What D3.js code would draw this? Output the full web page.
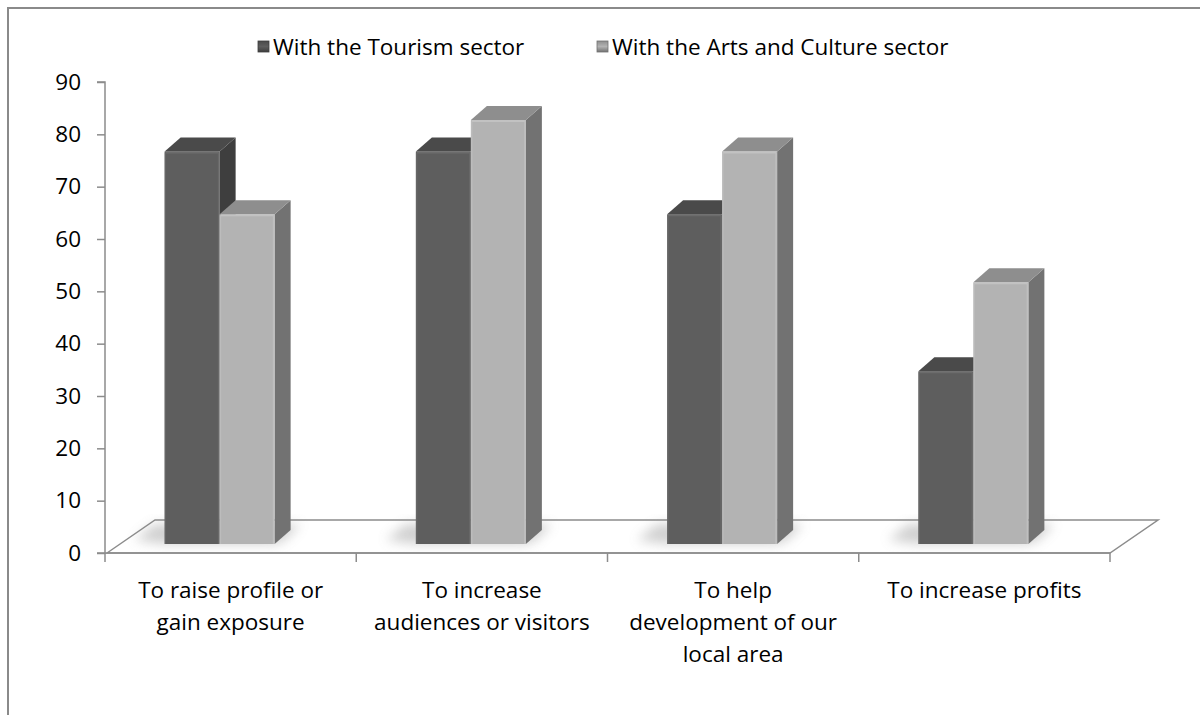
<!DOCTYPE html>
<html>
<head>
<meta charset="utf-8">
<script src="https://cdn.jsdelivr.net/npm/d3@7"></script>
<style>
  html, body { margin: 0; padding: 0; background: #fff; }
  svg { display: block; }
  text { font-family: "Open Sans", Lato, sans-serif; fill: #000; }
</style>
</head>
<body>
<svg id="chart" width="1200" height="715"></svg>
<script>
// Reasons for working with other sectors (%)
const categories = [
  "To raise profile or gain exposure",
  "To increase audiences or visitors",
  "To help development of our local area",
  "To increase profits"
];
const categoryLines = [
  ["To raise profile or", "gain exposure"],
  ["To increase", "audiences or visitors"],
  ["To help", "development of our", "local area"],
  ["To increase profits"]
];
const seriesNames = ["With the Tourism sector", "With the Arts and Culture sector"];
const tourismValues = [75, 75, 63, 33];
const artsValues = [63, 81, 75, 50];
const yTicks = [0, 10, 20, 30, 40, 50, 60, 70, 80, 90];

const svg = d3.select("#chart");
const W = 1200, H = 715;
const FONT = "'Open Sans', Lato, sans-serif";
const FS = 22.5;

// plot frame
const axisX0 = 105, axisX1 = 1110;
const floorY = 553, topY = 82;
const floorDepth = { dx: 48, dy: -33 };   // depth of the floor plane
const barDepth = { dx: 16, dy: -14 };     // depth of each column
const barLift = 9;                        // columns stand slightly back on the floor

const palette = [
  { front: "#5e5e5e", top: "#4a4a4a", side: "#3e3e3e", edge: "#6c6c6c" },
  { front: "#b3b3b3", top: "#8e8e8e", side: "#727272", edge: "#c2c2c2" }
];

const y = d3.scaleLinear().domain([0, 90]).range([floorY, topY]);
const x = d3.scaleBand().domain(categories).range([axisX0, axisX1]).padding(0);
const xs = d3.scaleBand().domain(seriesNames).range([0, 110]).padding(0);

// outer chart border
svg.append("rect")
  .attr("x", 8).attr("y", 8).attr("width", W + 20).attr("height", H + 20)
  .attr("fill", "none").attr("stroke", "#8a8a8a").attr("stroke-width", 2);

const defs = svg.append("defs");
const blur = defs.append("filter").attr("id", "shadowBlur")
  .attr("x", "-50%").attr("y", "-50%").attr("width", "200%").attr("height", "200%");
blur.append("feGaussianBlur").attr("stdDeviation", 6);

// legend swatch gradients
palette.forEach((p, i) => {
  const g = defs.append("linearGradient").attr("id", "leg" + i)
    .attr("x1", 0).attr("y1", 0).attr("x2", 0).attr("y2", 1);
  g.append("stop").attr("offset", "0%").attr("stop-color", p.top);
  g.append("stop").attr("offset", "50%").attr("stop-color", p.front);
  g.append("stop").attr("offset", "100%").attr("stop-color", p.side);
});

// floor
const floorPts = [
  [axisX0 + 2, floorY],
  [axisX0 + 2 + floorDepth.dx, floorY + floorDepth.dy],
  [axisX1 + floorDepth.dx, floorY + floorDepth.dy],
  [axisX1, floorY]
];
svg.append("polygon")
  .attr("points", floorPts.map(p => p.join(",")).join(" "))
  .attr("fill", "#fff").attr("stroke", "#8c8c8c").attr("stroke-width", 1.5);

// soft shadows cast on the floor
const shadowG = svg.append("g").attr("filter", "url(#shadowBlur)").attr("opacity", 0.4);
categories.forEach(c => {
  const left = x(c) + x.bandwidth() / 2 - 11 - xs.bandwidth();
  const right = left + 2 * xs.bandwidth();
  const yb = y(0) - barLift;
  shadowG.append("polygon")
    .attr("points", [
      [left - 30, yb - 4], [left - 10, yb - 20], [right + 26, yb - 20], [right + 10, yb - 4], [right, yb], [left, yb]
    ].map(p => p.join(",")).join(" "))
    .attr("fill", "#8a8a8a");
});

// axes
const yAxisG = svg.append("g").attr("transform", `translate(${axisX0},0)`)
  .call(d3.axisLeft(y).tickValues(yTicks).tickSize(8).tickPadding(16).tickFormat(d3.format("d")));
yAxisG.select(".domain").attr("stroke", "#8c8c8c").attr("stroke-width", 1.5)
  .attr("d", `M-8,${topY}H0V${floorY}H-8`);
yAxisG.selectAll(".tick line").attr("stroke", "#8c8c8c").attr("stroke-width", 1.5);
yAxisG.selectAll(".tick text").attr("font-size", FS).attr("font-family", FONT).attr("fill", "#000");

const xBoundaries = categories.map(c => x(c)).concat([axisX1]);
const xAxisG = svg.append("g");
xAxisG.append("line")
  .attr("x1", axisX0).attr("x2", axisX1).attr("y1", floorY).attr("y2", floorY)
  .attr("stroke", "#8c8c8c").attr("stroke-width", 1.5);
xAxisG.selectAll("line.tk").data(xBoundaries).join("line").attr("class", "tk")
  .attr("x1", d => d).attr("x2", d => d).attr("y1", floorY).attr("y2", floorY + 9)
  .attr("stroke", "#8c8c8c").attr("stroke-width", 1.5);

// category labels
const labelG = svg.append("g");
categories.forEach((c, i) => {
  const cx = x(c) + x.bandwidth() / 2;
  const t = labelG.append("text")
    .attr("x", cx).attr("y", 598)
    .attr("text-anchor", "middle").attr("font-size", FS);
  categoryLines[i].forEach((line, j) => {
    t.append("tspan").attr("x", cx).attr("dy", j === 0 ? 0 : 32).text(line);
  });
});

// 3D columns
const series = [tourismValues, artsValues];
const barG = svg.append("g");
categories.forEach((c, ci) => {
  const groupLeft = x(c) + x.bandwidth() / 2 - 11 - xs.bandwidth();
  seriesNames.forEach((s, si) => {
    const v = series[si][ci];
    const p = palette[si];
    const x0 = groupLeft + xs(s);
    const x1 = x0 + xs.bandwidth();
    const yb = y(0) - barLift;
    const yt = y(v) - barLift;
    const dx = barDepth.dx, dy = barDepth.dy;
    const g = barG.append("g");
    g.append("polygon")
      .attr("points", [[x1, yt], [x1 + dx, yt + dy], [x1 + dx, yb + dy], [x1, yb]].map(q => q.join(",")).join(" "))
      .attr("fill", p.side);
    g.append("polygon")
      .attr("points", [[x0, yt], [x0 + dx, yt + dy], [x1 + dx, yt + dy], [x1, yt]].map(q => q.join(",")).join(" "))
      .attr("fill", p.top);
    g.append("rect")
      .attr("x", x0).attr("y", yt).attr("width", x1 - x0).attr("height", yb - yt)
      .attr("fill", p.front);
    // bevel highlights on the front face edges
    g.append("line").attr("x1", x0 + 1).attr("x2", x1 - 1).attr("y1", yt + 1).attr("y2", yt + 1)
      .attr("stroke", p.edge).attr("stroke-width", 2);
    g.append("line").attr("x1", x1 - 1).attr("x2", x1 - 1).attr("y1", yt + 1).attr("y2", yb)
      .attr("stroke", p.edge).attr("stroke-width", 1.5).attr("opacity", 0.8);
    g.append("line").attr("x1", x0 + 0.75).attr("x2", x0 + 0.75).attr("y1", yt + 1).attr("y2", yb)
      .attr("stroke", p.edge).attr("stroke-width", 1.5).attr("opacity", 0.6);
  });
});

// legend
const legendItems = [
  { name: seriesNames[0], sx: 258, tx: 273 },
  { name: seriesNames[1], sx: 597, tx: 612 }
];
const legG = svg.append("g");
legendItems.forEach((it, i) => {
  legG.append("rect").attr("x", it.sx).attr("y", 41).attr("width", 11).attr("height", 11)
    .attr("fill", `url(#leg${i})`).attr("stroke", palette[i].side).attr("stroke-width", 0.8);
  legG.append("text").attr("x", it.tx).attr("y", 55).attr("font-size", FS).text(it.name);
});
</script>
</body>
</html>
